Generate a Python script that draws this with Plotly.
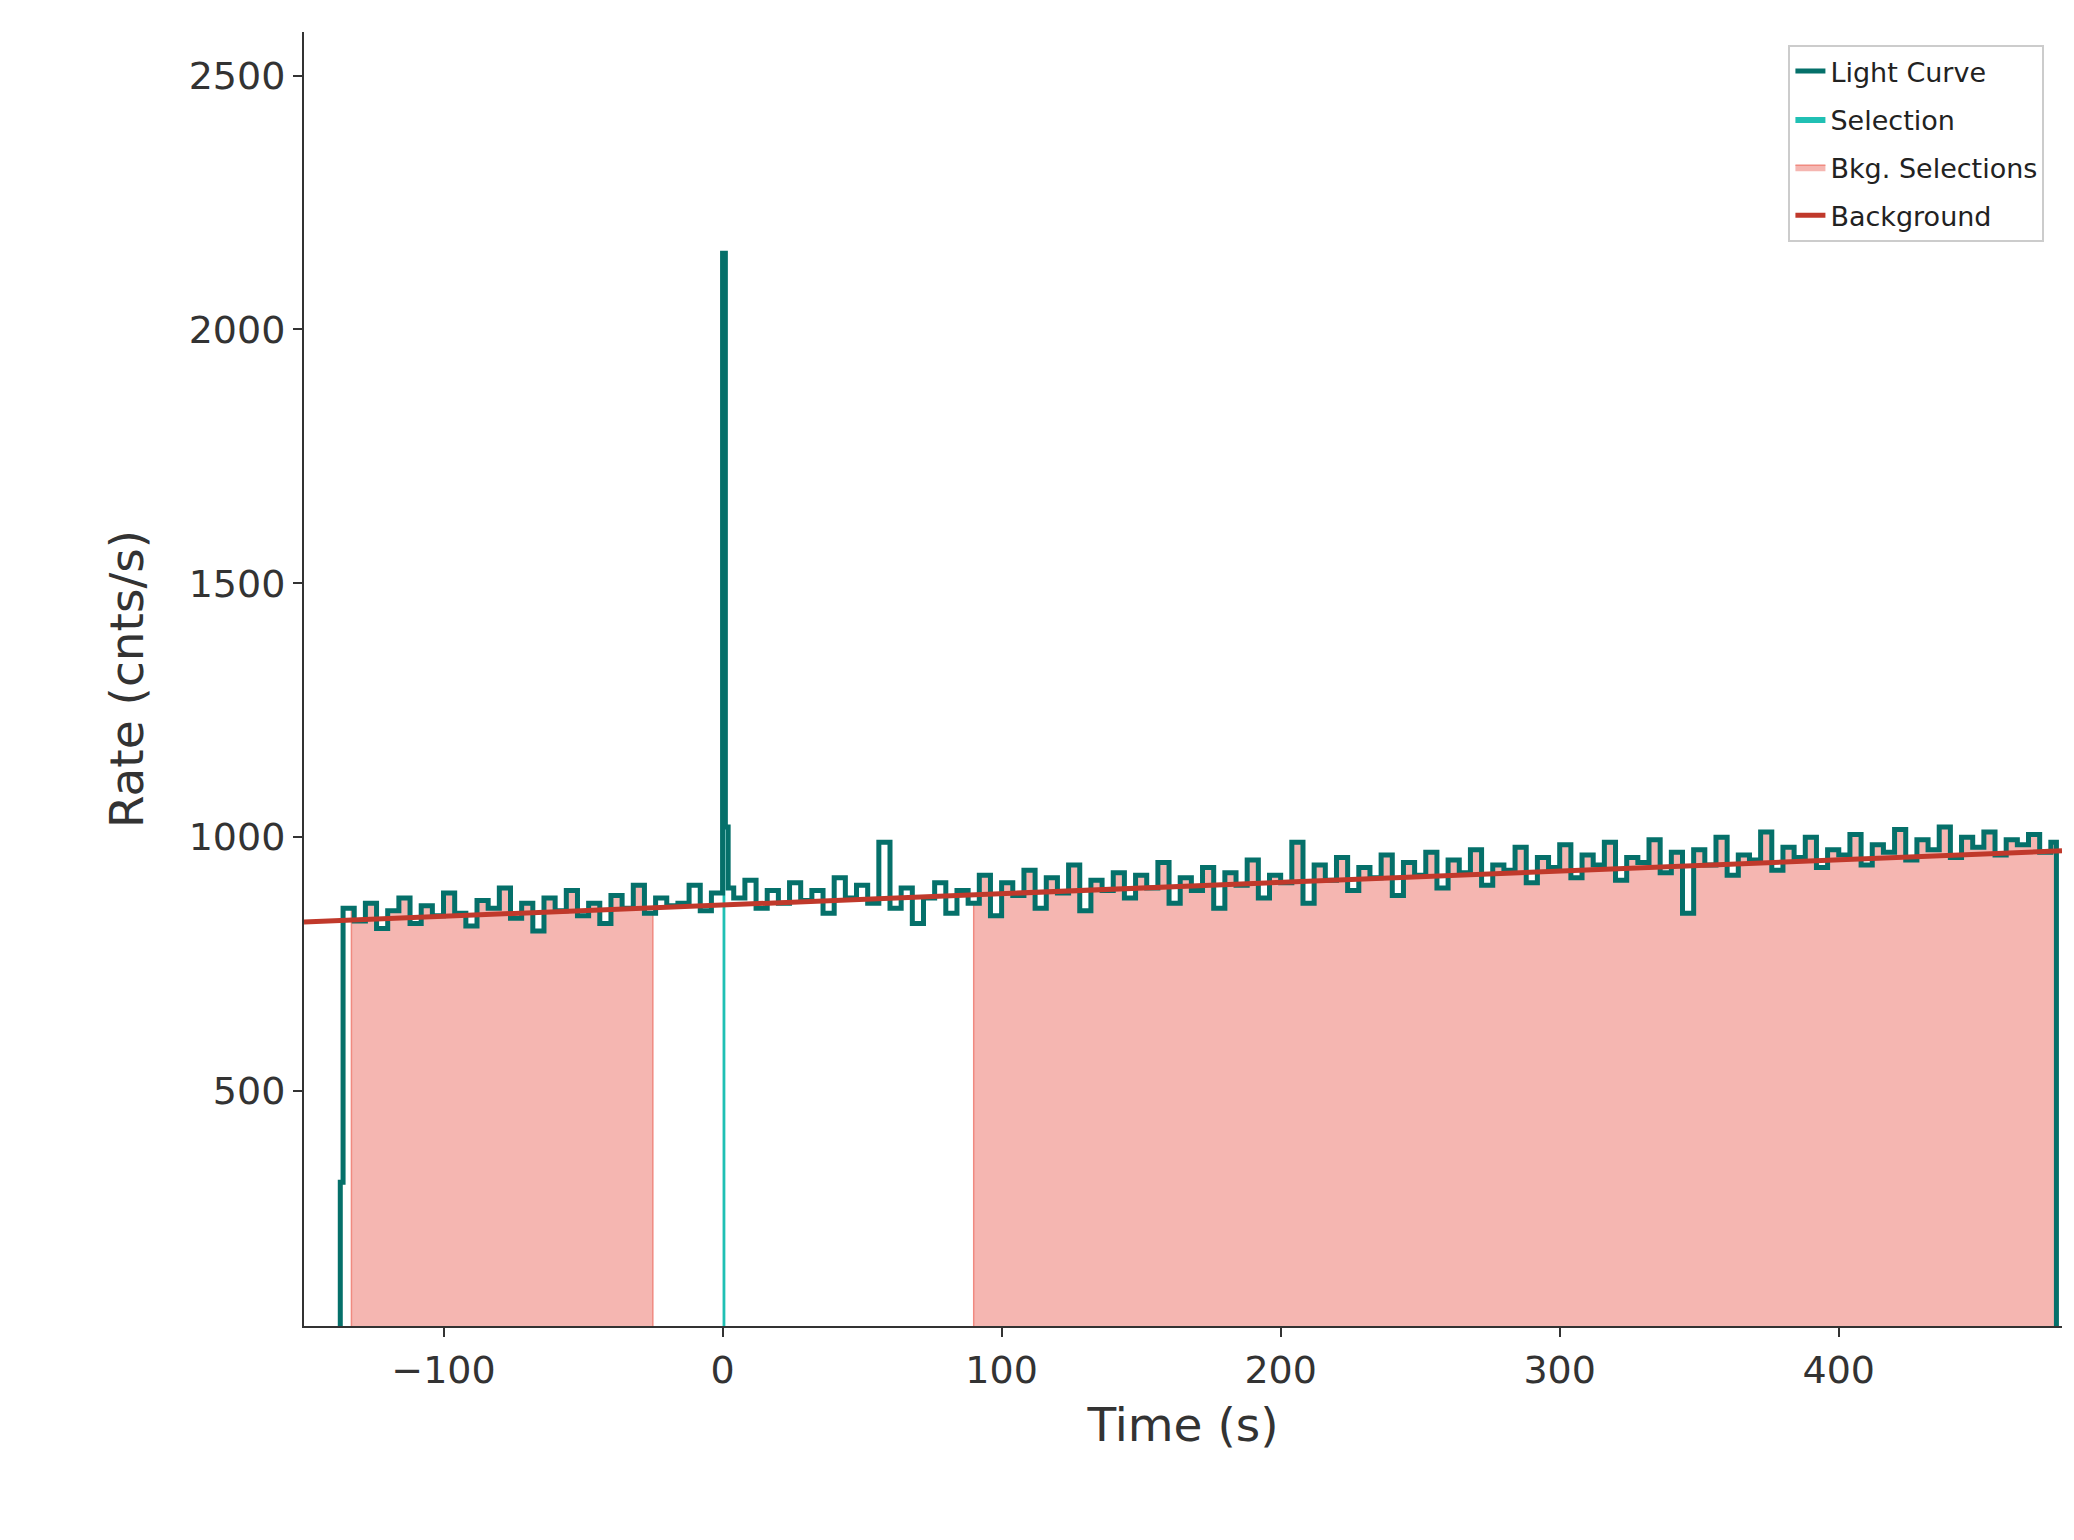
import plotly.graph_objects as go

# light curve, 4 s bins starting at -136 s (bin at 0 holds the spike peak)
bin_start = -136
bin_width = 4
rates = [
    860, 835, 870, 820, 855, 880, 830, 865, 845, 890,
    850, 825, 875, 860, 900, 840, 870, 815, 880, 855,
    895, 845, 870, 830, 885, 860, 905, 850, 880, 865,
    870, 905, 855, 890, 2150, 880, 915, 860, 895, 870,
    910, 875, 895, 850, 920, 880, 905, 870, 990, 860,
    900, 830, 880, 910, 850, 895, 870, 925, 845, 910,
    885, 935, 860, 920, 890, 945, 855, 915, 895, 930,
    880, 925, 900, 950, 870, 920, 895, 940, 860, 930,
    905, 955, 880, 925, 910, 990, 870, 945, 915, 960,
    895, 940, 920, 965, 885, 950, 925, 970, 900, 955,
    930, 975, 905, 945, 935, 980, 910, 960, 940, 985,
    920, 965, 945, 990, 915, 960, 950, 995, 930, 970,
    850, 975, 945, 1000, 925, 965, 955, 1010, 935, 980,
    960, 1000, 940, 975, 965, 1005, 945, 985, 970, 1015,
    955, 995, 975, 1020, 960, 1000, 980, 1010, 965, 995,
    985, 1005, 970, 990,
]
spike_tail_t = [1, 2]
spike_tail_rate = [1020, 900]
lead_t = [-137.5, -137]
lead_rate = [20, 320]
end_t = [478, 480]
end_rate = [20, 20]

sel_range = [0, 1]
bkg_ranges = [(-133, -25), (90, 478)]
bkg_t = [-150, 480]
bkg_rate = [833, 973]

t = list(lead_t)
r = list(lead_rate)
for i, v in enumerate(rates):
    ti = bin_start + i * bin_width
    t.append(ti)
    r.append(v)
    if ti == 0:
        t += spike_tail_t
        r += spike_tail_rate
t += end_t
r += end_rate


def value_at(x):
    val = r[0]
    for ti, ri in zip(t, r):
        if ti <= x:
            val = ri
    return val


def clip(lo, hi):
    xs = [lo] + [ti for ti in t if lo < ti < hi] + [hi]
    ys = [value_at(x) for x in xs]
    return xs, ys


fig = go.Figure()
sx, sy = clip(*sel_range)
fig.add_trace(go.Scatter(x=sx, y=sy, mode="lines", line=dict(shape="hv", width=0, color="#20c0b4"),
                         fill="tozeroy", fillcolor="#20c0b4", name="Selection", legendrank=2))
for k, (lo, hi) in enumerate(bkg_ranges):
    bx, by = clip(lo, hi)
    bx = [lo] + bx + [hi]
    by = [0] + by + [0]
    fig.add_trace(go.Scatter(x=bx, y=by, mode="lines", line=dict(shape="hv", width=1.5, color="#f08a80"),
                             fill="tozeroy", fillcolor="#f5b6b1", name="Bkg. Selections",
                             showlegend=(k == 0), legendgroup="bkg", legendrank=3))
fig.add_trace(go.Scatter(x=t, y=r, mode="lines", line=dict(shape="hv", width=5, color="#05706a"),
                         name="Light Curve", legendrank=1))
fig.add_trace(go.Scatter(x=bkg_t, y=bkg_rate, mode="lines", line=dict(width=5, color="#c0392b"),
                         name="Background", legendrank=4))

axis = dict(showline=True, linecolor="#333333", linewidth=2, ticks="outside", ticklen=9,
            tickwidth=2, tickcolor="#333333", showgrid=False, zeroline=False,
            tickfont=dict(size=38, color="#333333"), title_font=dict(size=47, color="#333333"))
fig.update_xaxes(axis, range=[-150, 480], tickvals=[-100, 0, 100, 200, 300, 400],
                 ticktext=["\u2212100", "0", "100", "200", "300", "400"], title_text="Time (s)",
                 title_standoff=18)
fig.update_yaxes(axis, range=[37, 2586], tickvals=[500, 1000, 1500, 2000, 2500], title_text="Rate (cnts/s)",
                 title_standoff=30)
fig.update_layout(
    width=2074, height=1540, plot_bgcolor="white", paper_bgcolor="white",
    font=dict(family="DejaVu Sans"),
    margin=dict(l=296, r=20, t=24, b=222),
    legend=dict(x=0.99, y=0.99, xanchor="right", yanchor="top", bordercolor="#cccccc", borderwidth=2,
                font=dict(size=27, color="#222222"), bgcolor="white"),
)
fig.write_html("out.html")
